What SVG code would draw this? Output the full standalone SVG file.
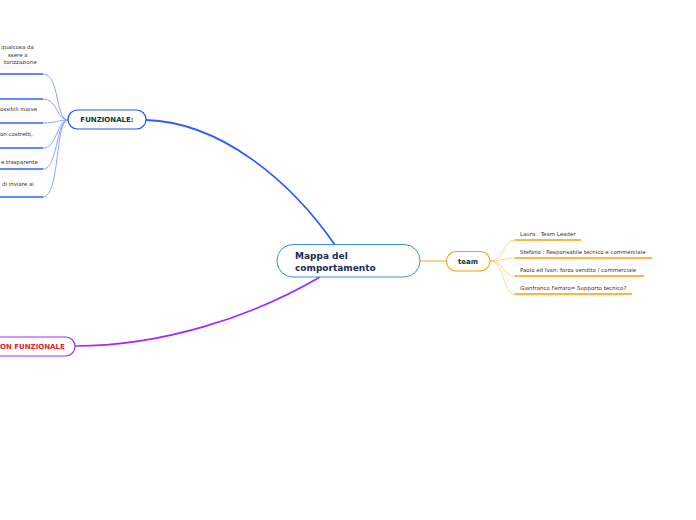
<svg xmlns="http://www.w3.org/2000/svg" width="696" height="520" viewBox="0 0 696 520">
<style>
.t{font-family:"DejaVu Sans",Verdana,sans-serif;}
.small{font-size:5.45px;fill:#333333;}
.nodetxt{font-weight:bold;}
.ulB{stroke:#2f62ff;stroke-width:1.6;fill:none;}
.lnB{stroke:#7d9dff;stroke-width:0.9;fill:none;}
.ulO{stroke:#f5a000;stroke-width:1.4;fill:none;}
.lnO{stroke:#ffd17a;stroke-width:0.9;fill:none;}
</style>
<rect width="696" height="520" fill="#ffffff"/>
<g id="connectors">
  <path d="M146,120 C220,122 290,180 335,245" stroke="#2a5cff" stroke-width="1.8" fill="none"/>
  <path d="M320,277 C250,318 160,346 75,346" stroke="#a526ff" stroke-width="1.6" fill="none"/>
  <path d="M420,261 L446,261" stroke="#f5a623" stroke-width="1" fill="none"/>
  <path class="lnB" d="M43,74 C60,74 55,120 68,120"/>
  <path class="lnB" d="M43,99 C58,99 56,120 68,120"/>
  <path class="lnB" d="M43,123 C56,123 58,120 68,120"/>
  <path class="lnB" d="M43,148 C57,148 57,120 68,120"/>
  <path class="lnB" d="M43,169 C58,169 56,120 68,120"/>
  <path class="lnB" d="M43,197 C60,197 55,120 68,120"/>
  <path class="lnO" d="M490,261 C505,261 502,240 515,240"/>
  <path class="lnO" d="M490,261 C504,261 503,258 515,258"/>
  <path class="lnO" d="M490,261 C504,261 503,276 515,276"/>
  <path class="lnO" d="M490,261 C505,261 502,294 515,294"/>
</g>
<g id="fz-child1">
  <text class="t small" x="1" y="49">qualcosa da</text>
  <text class="t small" x="8" y="56.5">ssere a</text>
  <text class="t small" x="4" y="64">torizzazione</text>
  <path class="ulB" d="M0,74 L43,74"/>
</g>
<g id="fz-child2">
  <path class="ulB" d="M0,99 L43,99"/>
</g>
<g id="fz-child3">
  <text class="t small" x="0" y="111">ossibili nuove</text>
  <path class="ulB" d="M0,123 L43,123"/>
</g>
<g id="fz-child4">
  <text class="t small" x="0" y="136">on costretti,</text>
  <path class="ulB" d="M0,148 L43,148"/>
</g>
<g id="fz-child5">
  <text class="t small" x="1" y="164">e trasparente</text>
  <path class="ulB" d="M0,169 L43,169"/>
</g>
<g id="fz-child6">
  <text class="t small" x="2" y="186">di inviare ai</text>
  <path class="ulB" d="M0,197 L43,197"/>
</g>
<g id="funzionale">
  <rect x="68" y="110" width="78" height="19" rx="9.5" fill="#ffffff" stroke="#2457f0" stroke-width="1.2"/>
  <text class="t nodetxt" x="107" y="122.3" font-size="7" fill="#0d3b2e" text-anchor="middle">FUNZIONALE:</text>
</g>
<g id="center">
  <rect x="277" y="244.5" width="143" height="32.5" rx="16" fill="#ffffff" stroke="#3b8fd4" stroke-width="1"/>
  <text class="t nodetxt" x="295" y="259" font-size="9" fill="#1b2b52">Mappa del</text>
  <text class="t nodetxt" x="295" y="270.5" font-size="9" fill="#1b2b52">comportamento</text>
</g>
<g id="nonfunzionale">
  <rect x="-30" y="337" width="105" height="19" rx="9.5" fill="#ffffff" stroke="#a030ff" stroke-width="1.2"/>
  <text class="t nodetxt" x="0" y="349.3" font-size="7" fill="#e8202a">ON FUNZIONALE</text>
</g>
<g id="team">
  <rect x="446.5" y="251.5" width="43.5" height="19.5" rx="9.5" fill="#ffffff" stroke="#f5a000" stroke-width="1.1"/>
  <text class="t nodetxt" x="468" y="263.8" font-size="7" fill="#0d3b2e" text-anchor="middle">team</text>
</g>
<g id="team-child1">
  <text class="t small" x="520" y="235.5">Laura : Team Leader</text>
  <path class="ulO" d="M515,240 L581,240"/>
</g>
<g id="team-child2">
  <text class="t small" x="520" y="253.5">Stefano : Responsabile tecnico e commerciale</text>
  <path class="ulO" d="M515,258 L652,258"/>
</g>
<g id="team-child3">
  <text class="t small" x="520" y="271.5">Paolo ed Ivan: forza vendita / commerciale</text>
  <path class="ulO" d="M515,276 L644,276"/>
</g>
<g id="team-child4">
  <text class="t small" x="520" y="289.5">Gianfranco Ferraro= Supporto tecnico?</text>
  <path class="ulO" d="M515,294 L632,294"/>
</g>
</svg>
